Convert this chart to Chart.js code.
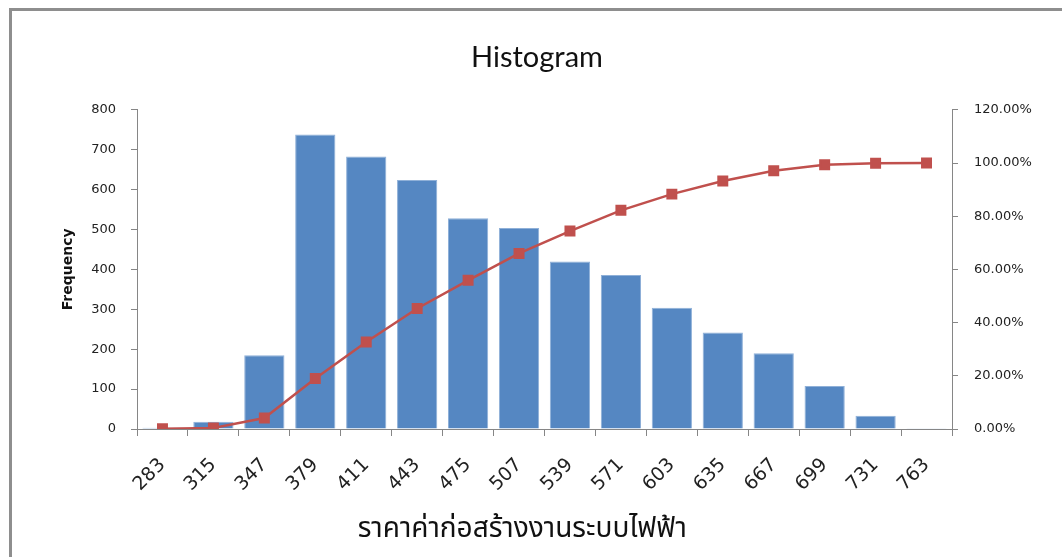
<!DOCTYPE html>
<html>
<head>
<meta charset="utf-8">
<script src="https://cdn.jsdelivr.net/npm/chart.js@4.4.0/dist/chart.umd.min.js"></script>
<style>
    html, body { margin: 0; padding: 0; background: #fff; overflow: hidden; }
    #wrap { position: relative; width: 1062px; height: 557px; }
    #frame {
        position: absolute; left: 9px; top: 8px; right: -10px; bottom: -10px;
        border-top: 3px solid #8e8e8e; border-left: 3px solid #8e8e8e;
        pointer-events: none;
    }
</style>
</head>
<body>
<div id="wrap">
    <canvas id="myChart" width="1062" height="557"></canvas>
    <div id="frame"></div>
</div>
<script>
const bins = ['283', '315', '347', '379', '411', '443', '475', '507', '539', '571', '603', '635', '667', '699', '731', '763'];
const frequency = [3, 18, 185, 738, 683, 624, 528, 504, 420, 386, 304, 242, 190, 108, 33, 2];
const cumulative = [0.06, 0.4, 4.1, 19.0, 32.7, 45.3, 55.9, 66.0, 74.4, 82.2, 88.3, 93.2, 97.1, 99.3, 99.9, 100];
const freqMax = 800;
const percentMax = 120;

const tickFont = { family: 'DejaVu Sans', size: 13 };
const axisGrey = '#868686';

// excel had the axis title dragged a bit left of centre, trailing spaces nudge it there
const xTitle = 'ราคาค่าก่อสร้างงานระบบไฟฟ้า' + '\u00A0'.repeat(5);

function chart() {
    const ctx = document.getElementById('myChart').getContext('2d');
    const myChart = new Chart(ctx, {
        data: {
            labels: bins,
            datasets: [{
                    type: 'line',
                    label: 'Cumulative %',
                    data: cumulative,
                    yAxisID: 'y1',
                    borderColor: '#c0504d',
                    backgroundColor: '#c0504d',
                    borderWidth: 2.5,
                    pointStyle: 'rect',
                    pointRadius: 6,
                    pointHoverRadius: 6,
                    tension: 0,
                    order: 0
                }, {
                    type: 'bar',
                    label: 'Frequency',
                    data: frequency,
                    yAxisID: 'y',
                    backgroundColor: '#5587c2',
                    borderColor: '#8fb0d8',
                    borderWidth: 1,
                    barPercentage: 0.79,
                    categoryPercentage: 1,
                    order: 1
                }]
        },
        options: {
            responsive: false,
            animation: false,
            layout: { padding: { left: 12 } },
            plugins: {
                legend: { display: false },
                tooltip: { enabled: false },
                title: {
                    display: true,
                    text: 'Histogram',
                    color: '#111',
                    font: { family: 'Lato', size: 29, weight: 'normal' },
                    padding: { top: 40, bottom: 35 }
                }
            },
            scales: {
                x: {
                    offset: true,
                    grid: {
                        offset: true,
                        drawOnChartArea: false,
                        tickLength: 7,
                        color: axisGrey
                    },
                    border: { color: axisGrey },
                    ticks: {
                        minRotation: 45,
                        maxRotation: 45,
                        padding: 18,
                        color: '#222',
                        font: { family: 'DejaVu Sans', size: 19 }
                    },
                    title: {
                        display: true,
                        text: xTitle,
                        color: '#111',
                        font: { family: 'DejaVu Sans, Noto Sans Thai, sans-serif', size: 28 },
                        padding: { bottom: 10 }
                    },
                    afterFit: function (scale) {
                        scale.height = 128;
                    }
                },
                y: {
                    position: 'left',
                    min: 0,
                    max: freqMax,
                    grid: {
                        drawOnChartArea: false,
                        tickLength: 6,
                        color: axisGrey
                    },
                    border: { color: axisGrey },
                    ticks: {
                        stepSize: 100,
                        padding: 15,
                        color: '#222',
                        font: tickFont
                    },
                    title: {
                        display: true,
                        text: 'Frequency',
                        color: '#111',
                        font: { family: 'DejaVu Sans', size: 14, weight: 'bold' },
                        padding: { top: 48 }
                    },
                    afterFit: function (scale) {
                        scale.width = 125;
                    }
                },
                y1: {
                    position: 'right',
                    min: 0,
                    max: percentMax,
                    grid: {
                        drawOnChartArea: false,
                        tickLength: 6,
                        color: axisGrey
                    },
                    border: { color: axisGrey },
                    ticks: {
                        stepSize: 20,
                        padding: 16,
                        color: '#222',
                        font: tickFont,
                        callback: function (v) {
                            return v.toFixed(2) + '%';
                        }
                    },
                    afterFit: function (scale) {
                        scale.width = 110;
                    }
                }
            }
        }
    });
}

chart();
</script>
</body>
</html>
